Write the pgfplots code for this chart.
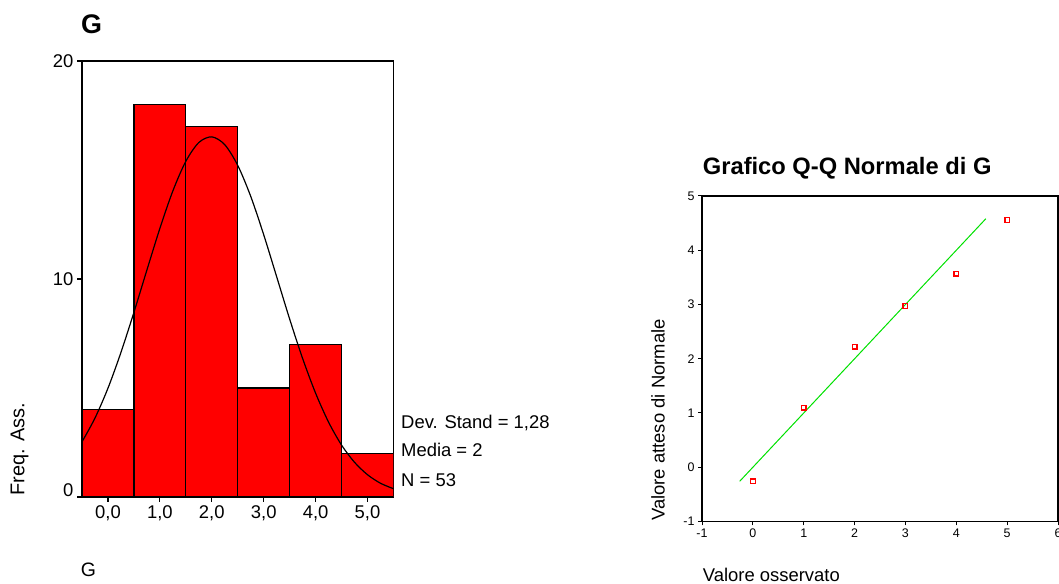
\documentclass[border=0pt]{standalone}
\usepackage{pgfplots}
\pgfplotsset{compat=1.18}
\usepackage{fontspec}
\setmainfont{Liberation Sans}

\definecolor{barred}{RGB}{255,0,0}
\definecolor{fitgreen}{RGB}{0,225,0}

\begin{document}
\begin{tikzpicture}[x=1bp,y=1bp]
\useasboundingbox (0,0) rectangle (1059,584);

% ---------------- Histogram of G with normal curve ----------------
\begin{axis}[
  at={(82bp,87bp)}, anchor=south west,
  scale only axis, width=311.5bp, height=436bp,
  xmin=-0.5, xmax=5.5, ymin=0, ymax=20,
  xtick={0,1,2,3,4,5},
  ytick={0,10,20},
  yticklabels={\raisebox{14bp}{0},10,20},
  xticklabels={{0,0},{1,0},{2,0},{3,0},{4,0},{5,0}},
  tick align=outside, tick pos=left,
  major tick length=5bp,
  axis line style={black, line width=1.3bp},
  every tick/.style={black, line width=1.1bp},
  tick label style={font=\fontsize{18.5}{22}\selectfont, text=black},
  /pgf/number format/assume math mode=true,
  clip=true,
]
\addplot[ybar interval, fill=barred, draw=black, line width=1.3bp]
  coordinates {(-0.5,4) (0.5,18) (1.5,17) (2.5,5) (3.5,7) (4.5,2) (5.5,2)};
\addplot[black, line width=1.2bp, smooth] coordinates {
  (-0.50,2.53) (-0.25,3.62) (0.00,4.99) (0.25,6.63) (0.50,8.47)
  (0.75,10.41) (1.00,12.32) (1.25,14.04) (1.50,15.40) (1.75,16.26)
  (2.00,16.52) (2.25,16.16) (2.50,15.21) (2.75,13.79) (3.00,12.03)
  (3.25,10.10) (3.50,8.16) (3.75,6.35) (4.00,4.76) (4.25,3.43)
  (4.50,2.38) (4.75,1.59) (5.00,1.02) (5.25,0.63) (5.50,0.38)};
\end{axis}

\node[anchor=base west, inner sep=0, font=\fontsize{27}{30}\selectfont\bfseries] at (81,550) {G};
\node[anchor=west, rotate=90, inner sep=0, font=\fontsize{20}{24}\selectfont] at (19.5,88) {Freq. Ass.};
\node[anchor=base west, inner sep=0, font=\fontsize{19.5}{23}\selectfont] at (80.7,7.3) {G};
\node[anchor=base west, inner sep=0, font=\fontsize{18.5}{22}\selectfont] at (401,155.7) {Dev. Stand = 1,28};
\node[anchor=base west, inner sep=0, font=\fontsize{18.5}{22}\selectfont] at (401,127.3) {Media = 2};
\node[anchor=base west, inner sep=0, font=\fontsize{18.5}{22}\selectfont] at (401,97.3) {N = 53};

% ---------------- Normal Q-Q plot ----------------
\begin{axis}[
  at={(702bp,62.5bp)}, anchor=south west,
  scale only axis, width=356bp, height=325.5bp,
  xmin=-1, xmax=6, ymin=-1, ymax=5,
  xtick={-1,0,1,2,3,4,5,6},
  ytick={-1,0,1,2,3,4,5},
  tick align=outside, tick pos=left,
  major tick length=4bp,
  axis line style={black, line width=1.3bp},
  every tick/.style={black, line width=1bp},
  tick label style={font=\fontsize{12.5}{15}\selectfont, text=black},
  /pgf/number format/assume math mode=true,
]
\addplot[fitgreen, line width=1bp] coordinates {(-0.26,-0.26) (4.58,4.58)};
\addplot[only marks, mark=square, mark size=2.3bp, color=barred,
         mark options={line width=1.3bp}]
  coordinates {(0,-0.26) (1,1.10) (2,2.22) (3,2.97) (4,3.57) (5,4.56)};
\end{axis}

\node[anchor=base west, inner sep=0, font=\fontsize{23.8}{27}\selectfont\bfseries] at (702.7,409) {Grafico Q-Q Normale di G};
\node[anchor=west, rotate=90, inner sep=0, font=\fontsize{18.5}{22}\selectfont] at (658,63) {Valore atteso di Normale};
\node[anchor=base west, inner sep=0, font=\fontsize{18.5}{22}\selectfont] at (702.7,2.5) {Valore osservato};
\end{tikzpicture}
\end{document}
